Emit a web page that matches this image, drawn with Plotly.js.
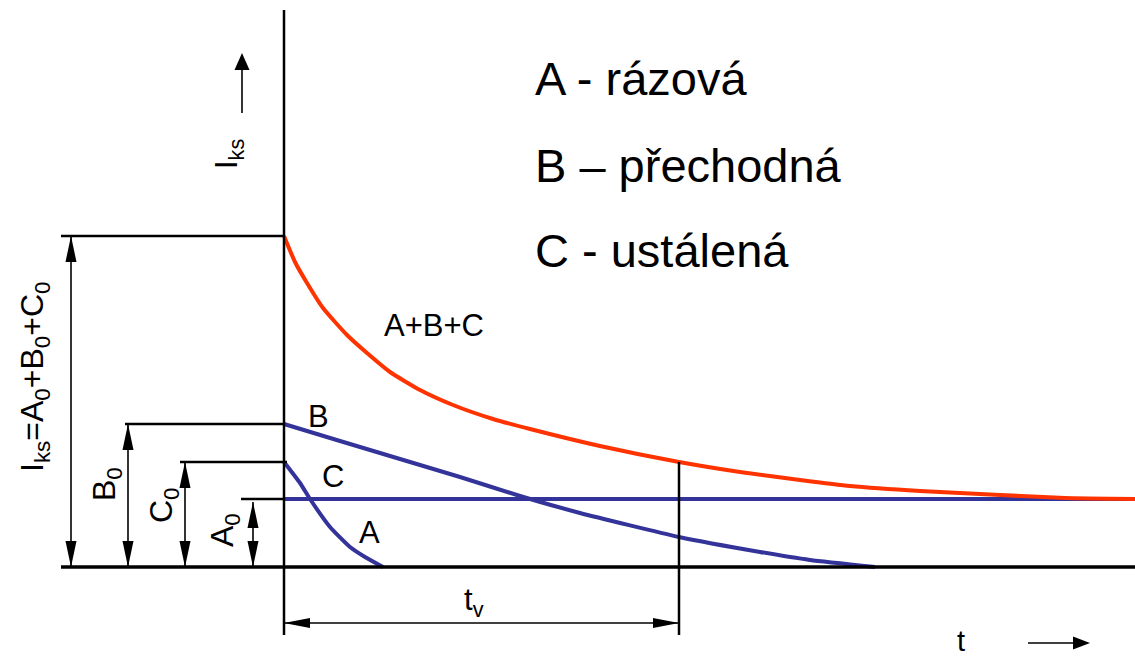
<!DOCTYPE html>
<html>
<head>
<meta charset="utf-8">
<script src="https://cdn.plot.ly/plotly-3.0.1.min.js"></script>
<style>
  html, body { margin: 0; padding: 0; background: #ffffff; }
  #chart { width: 1135px; height: 656px; }
</style>
</head>
<body>
<div id="chart"></div>
<script>
// Short-circuit current and its components versus time (relative units)

// Total current A+B+C
const tSum = [0, 0.11, 0.23, 0.39, 0.63, 0.83, 1.06, 1.36, 1.69, 2.09, 2.46, 3.16, 3.95, 4.56, 5.16, 5.66, 6.36, 7.16, 7.81, 8.51];
const iSum = [3.31, 3.05, 2.84, 2.59, 2.32, 2.14, 1.95, 1.77, 1.62, 1.48, 1.38, 1.21, 1.05, 0.95, 0.87, 0.81, 0.76, 0.72, 0.69, 0.68];

// Component B (transient)
const tB = [0, 0.56, 1.16, 1.76, 2.36, 2.96, 3.95, 4.76, 5.26, 5.91];
const iB = [1.43, 1.26, 1.08, 0.90, 0.71, 0.54, 0.30, 0.15, 0.07, 0.00];

// Component A (subtransient)
const tA = [0, 0.16, 0.26, 0.46, 0.66, 0.81, 0.99];
const iA = [1.05, 0.84, 0.68, 0.40, 0.20, 0.10, 0.00];

// Component C (steady state)
const tC = [0, 8.51];
const iC = [0.68, 0.68];

// Levels marked by the dimension arrows on the left
const levelLabels = ['I<sub>ks</sub>=A<sub>0</sub>+B<sub>0</sub>+C<sub>0</sub>', 'B<sub>0</sub>', 'C<sub>0</sub>', 'A<sub>0</sub>'];
const levelValues = [3.31, 1.43, 1.05, 0.68];

// Decay time t_v and the current it is measured at
const tv = 3.95;
const iAtTv = 1.05;

const legendLines = ['A - rázová', 'B – přechodná', 'C - ustálená'];
const curveLabels = ['A+B+C', 'B', 'C', 'A'];

// ---- drawing ----
const FONT = 'Liberation Sans, Arial, Helvetica, sans-serif';
const RED = '#ff3300';
const BLUE = '#333399';
const BLACK = '#000000';

const traces = [
  { x: tC, y: iC, mode: 'lines', line: { color: BLUE, width: 4 }, hoverinfo: 'skip' },
  { x: tB, y: iB, mode: 'lines', line: { color: BLUE, width: 4, shape: 'spline', smoothing: 0.5 }, hoverinfo: 'skip' },
  { x: tA, y: iA, mode: 'lines', line: { color: BLUE, width: 4, shape: 'spline', smoothing: 0.5 }, hoverinfo: 'skip' },
  { x: tSum, y: iSum, mode: 'lines', line: { color: RED, width: 4, shape: 'spline', smoothing: 0.5 }, hoverinfo: 'skip' }
];

const shapes = [];
function seg(x0, y0, x1, y1, w) {
  shapes.push({ type: 'line', xref: 'x', yref: 'y', x0: x0, y0: y0, x1: x1, y1: y1,
                line: { color: BLACK, width: w } });
}
// filled arrow head with its tip at (x, y); sizes in pixels
function head(x, y, dir, len, half) {
  let p;
  if (dir === 'up')    p = `M0,0 L${-half},${-len} L${half},${-len} Z`;
  if (dir === 'down')  p = `M0,0 L${-half},${len} L${half},${len} Z`;
  if (dir === 'right') p = `M0,0 L${-len},${-half} L${-len},${half} Z`;
  if (dir === 'left')  p = `M0,0 L${len},${-half} L${len},${half} Z`;
  shapes.push({ type: 'path', xref: 'x', yref: 'y', xsizemode: 'pixel', ysizemode: 'pixel',
                xanchor: x, yanchor: y, path: p, fillcolor: BLACK, line: { width: 0 } });
}

// axes of the sketch
const tLeft = -2.23, tRight = 8.51;
seg(tLeft, 0, tRight, 0, 3.5);         // time axis
seg(0, -0.68, 0, 5.57, 2.5);          // current axis

// dimension arrows for the initial values
const arrowT = [-2.13, -1.56, -0.99, -0.31];
const extStart = [-2.23, -1.59, -1.04, -0.43];
const extEnd = [0, 0, 0.03, 0];
levelValues.forEach((v, k) => {
  seg(extStart[k], v, extEnd[k], v, 2.5);
  const top = k === 3 ? v - 0.03 : v;
  seg(arrowT[k], 0, arrowT[k], top, 1.6);
  head(arrowT[k], top, 'up', 26, 5.5);
  head(arrowT[k], 0, 'down', 26, 5.5);
});

// decay time t_v
const tvArrowI = -0.56;
seg(tv, iAtTv, tv, -0.68, 2.5);
seg(0, tvArrowI, tv, tvArrowI, 1.6);
head(0, tvArrowI, 'left', 26, 5);
head(tv, tvArrowI, 'right', 26, 5);

// direction arrows next to the axis names
seg(-0.42, 4.54, -0.42, 5.0, 1.6);
head(-0.42, 5.14, 'up', 17, 7.5);
seg(7.44, -0.76, 7.95, -0.76, 1.6);
head(8.06, -0.76, 'right', 17, 6.5);

const annotations = [];
function label(text, x, y, size, opts) {
  annotations.push(Object.assign({
    text: text, x: x, y: y, xref: 'x', yref: 'y', showarrow: false,
    xanchor: 'center', yanchor: 'middle',
    font: { family: FONT, size: size, color: BLACK }
  }, opts || {}));
}

// key for the components
const legendY = [4.89, 4.02, 3.17];
legendLines.forEach((s, k) => label(s, 2.49, legendY[k], 47, { xanchor: 'left' }));

// curve names
const curveLabelPos = [[1.50, 2.42], [0.34, 1.51], [0.49, 0.91], [0.85, 0.35]];
curveLabels.forEach((s, k) => label(s, curveLabelPos[k][0], curveLabelPos[k][1], 31));

// dimension labels (vertical)
const levelLabelPos = [[-2.50, 1.90], [-1.78, 0.83], [-1.21, 0.62], [-0.60, 0.37]];
levelLabels.forEach((s, k) => label(s, levelLabelPos[k][0], levelLabelPos[k][1], 32, { textangle: -90 }));

// axis names
label('I<sub>ks</sub>', -0.55, 4.13, 31, { textangle: -90 });
label('t', 6.77, -0.74, 29, { borderpad: 0 });
label('t<sub>v</sub>', 1.90, -0.35, 31);

const layout = {
  width: 1135, height: 656,
  margin: { l: 0, r: 0, t: 0, b: 0, pad: 0 },
  paper_bgcolor: '#ffffff', plot_bgcolor: '#ffffff',
  showlegend: false,
  xaxis: { range: [-2.84, 8.51], visible: false, fixedrange: true },
  yaxis: { range: [-0.89, 5.67], visible: false, fixedrange: true },
  shapes: shapes,
  annotations: annotations
};

Plotly.newPlot('chart', traces, layout, { staticPlot: true, displayModeBar: false });
</script>
</body>
</html>
